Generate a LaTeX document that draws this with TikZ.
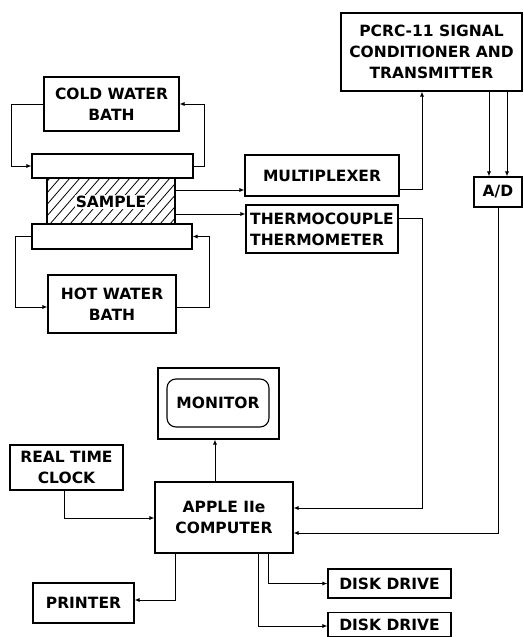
\documentclass[tikz,border=0pt]{standalone}
\usepackage{fontspec}
\newfontfamily\dvfont{DejaVu Sans}
\usetikzlibrary{arrows.meta}
\begin{document}
\begin{tikzpicture}[x=1pt,y=-1pt,
  box/.style={draw,line width=1.1pt,inner sep=0pt,align=center,
    font=\dvfont\bfseries\fontsize{15.5}{21}\selectfont},
  arr/.style={line width=0.8pt,-{Latex[length=5pt,width=4pt]}},
  ln/.style={line width=0.8pt}]
\useasboundingbox (0,0) rectangle (524,637);
% nodes
\node[box,minimum width=181pt,minimum height=78pt] (pcrc) at (431.5,52) {PCRC-11 SIGNAL\\CONDITIONER AND\\TRANSMITTER};
\node[box,minimum width=154pt,minimum height=41pt] (mux) at (322,175.5) {MULTIPLEXER};
\node[box,minimum width=152pt,minimum height=48pt,align=left] (thermo) at (322,229) {THERMOCOUPLE\\THERMOMETER};
\node[box,minimum width=48pt,minimum height=30pt] (ad) at (498,192) {A/D};
\node[box,minimum width=135pt,minimum height=54pt] (cold) at (111.5,104) {COLD WATER\\BATH};
\node[box,minimum width=161pt,minimum height=24pt] (top) at (112.5,166) {};
\node[box,minimum width=128pt,minimum height=46pt] (sample) at (111,201) {};
\node[box,minimum width=160pt,minimum height=25pt] (bot) at (112,236.5) {};
\node[box,minimum width=128pt,minimum height=58pt] (hot) at (112,304) {HOT WATER\\BATH};
\node[box,minimum width=121pt,minimum height=71pt] (mon) at (218.5,403.5) {};
\node[box,rounded corners=9pt,minimum width=102pt,minimum height=48pt] (moninner) at (218,403) {MONITOR};
\node[box,minimum width=138pt,minimum height=71pt] (comp) at (224,517.5) {APPLE IIe\\COMPUTER};
\node[box,minimum width=113pt,minimum height=45pt] (clock) at (66.5,467.5) {REAL TIME\\CLOCK};
\node[box,minimum width=101pt,minimum height=40pt] (printer) at (83.5,603) {PRINTER};
\node[box,minimum width=123pt,minimum height=29pt] (disk1) at (389.5,583.5) {DISK DRIVE};
\node[box,minimum width=123pt,minimum height=24pt] (disk2) at (389.5,624.5) {DISK DRIVE};
% hatching
\begin{scope}
  \clip (sample.south west) rectangle (sample.north east);
  \foreach \k in {-50,-40,...,180} {
    \draw[line width=0.8pt] (\k,224) -- (\k+40,178);
  }
\end{scope}
\draw[line width=1.1pt] (sample.south west) rectangle (sample.north east);
\node[fill=white,inner sep=1pt,font=\dvfont\bfseries\fontsize{15.5}{21}\selectfont] (samplelabel) at (111,202) {SAMPLE};
% connectors
\draw[arr] (cold.west) -- ++(-32,0) |- (top.west);
\draw[arr] (top.east) -- ++(11,0) |- (cold.east);
\draw[arr] (bot.west) -- ++(-16,0) |- ([yshift=-3pt]hot.west);
\draw[arr] ([yshift=-3pt]hot.east) -- ++(33,0) |- (bot.east);
\draw[arr] (sample.east |- 0,190) -- (mux.west |- 0,190);
\draw[arr] (sample.east |- 0,214) -- (thermo.west |- 0,214);
\draw[arr] (mux.east |- 0,189) -| (pcrc.south -| 422,0);
\draw[arr] (pcrc.south -| 489,0) -- (ad.north -| 489,0);
\draw[arr] (pcrc.south -| 507,0) -- (ad.north -| 507,0);
\draw[arr] (ad.south) |- (comp.east |- 0,533);
\draw[arr] (thermo.east |- 0,218) -| (422,508) -- (comp.east |- 0,508);
\draw[arr] (comp.north -| 215,0) -- (mon.south -| 215,0);
\draw[arr] (clock.south -| 64,0) |- (comp.west |- 0,518);
\draw[arr] (comp.south -| 175,0) |- (printer.east |- 0,600);
\draw[arr] (comp.south -| 268,0) |- (disk1.west);
\draw[arr] (comp.south -| 258,0) |- (disk2.west |- 0,626);
\end{tikzpicture}
\end{document}
